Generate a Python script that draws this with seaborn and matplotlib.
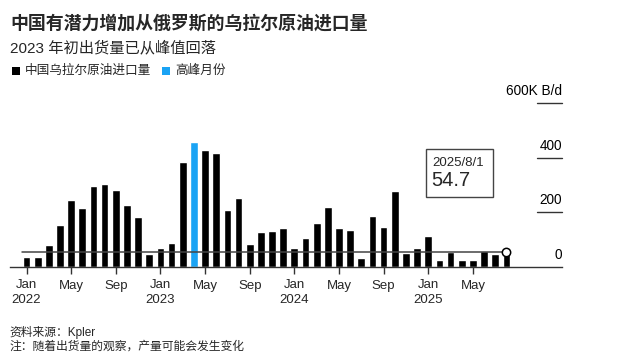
import numpy as np
import pandas as pd
import matplotlib
matplotlib.use("Agg")
import matplotlib.pyplot as plt
import seaborn as sns
from matplotlib.patches import Rectangle

# monthly Urals crude imports into China, thousand barrels/day
months = pd.date_range("2022-01-01", "2025-08-01", freq="MS")
imports = [36, 38, 80, 153, 246, 216, 297, 305, 281, 226, 183, 48,
           71, 87, 385, 456, 427, 417, 208, 252, 84, 128, 132, 143,
           71, 106, 160, 221, 143, 136, 34, 188, 147, 279, 51, 70,
           113, 27, 56, 26, 25, 59, 49, 54.7]
peak_month = "2023-04"
latest_label = "2025/8/1"
latest_value = "54.7"
y_ticks = [0, 200, 400, 600]
y_tick_labels = ["0", "200", "400", "600K B/d"]

title = "中国有潜力增加从俄罗斯的乌拉尔原油进口量"
subtitle = "2023 年初出货量已从峰值回落"
legend_labels = ["中国乌拉尔原油进口量", "高峰月份"]
source = "资料来源：Kpler"
note = "注：随着出货量的观察，产量可能会发生变化"

blue = "#1aa3f4"
dark = "#333333"

sns.set_style("white")
plt.rcParams["font.family"] = ["Liberation Sans", "Noto Sans CJK SC", "DejaVu Sans"]

df = pd.DataFrame({"month": months, "imports": imports})
df["pos"] = np.arange(len(df))
df["kind"] = np.where(df["month"].dt.strftime("%Y-%m") == peak_month, "peak", "normal")

W, H = 625, 364
fig = plt.figure(figsize=(W / 100, H / 100), dpi=100)


def fx(x):
    return x / W


def fy(y):
    return 1 - y / H


# axes placed in pixel terms: left 10, right 562, zero line at 267, top at 90
ax = fig.add_axes([fx(10), fy(267), (562 - 10) / W, (267 - 90) / H])
sns.barplot(data=df, x="pos", y="imports", hue="kind",
            palette={"normal": "black", "peak": blue},
            dodge=False, width=0.69, saturation=1, legend=False,
            native_scale=True, ax=ax)

step = 11.16
ax.set_xlim((10 - 26.5) / step, (562 - 26.5) / step)
ax.set_ylim(0, (267 - 90) * 200 / 54.7)

# reference line at the latest value, with marker on last bar
last = df["pos"].iloc[-1]
ax.plot([-0.4, last], [df["imports"].iloc[-1]] * 2, color="#444444", lw=1.1, zorder=3)
ax.plot([last], [df["imports"].iloc[-1]], marker="o", ms=6, mfc="white",
        mec="black", mew=1.1, zorder=4)

# right-side value labels with short rules
x_rule0 = (537 - 26.5) / step
x_rule1 = (562 - 26.5) / step
for v, lab in zip(y_ticks, y_tick_labels):
    if v > 0:
        ax.plot([x_rule0, x_rule1], [v, v], color=dark, lw=1, clip_on=False)
    ax.annotate(lab, xy=(x_rule1, v), xytext=(0, 8.6), textcoords="offset points",
                ha="right", va="center", fontsize=9.8, color="black")

for s in ["top", "right", "left"]:
    ax.spines[s].set_visible(False)
ax.spines["bottom"].set_color(dark)
ax.spines["bottom"].set_linewidth(1)
ax.set_yticks([])
ax.set_ylabel("")
ax.set_xlabel("")

tick_pos = df["pos"][::4]
tick_labels = []
for m in df["month"][::4]:
    lab = m.strftime("%b")
    if m.month == 1:
        lab += "\n" + str(m.year)
    tick_labels.append(lab)
ax.set_xticks(tick_pos)
ax.set_xticklabels(tick_labels, fontsize=9.5, linespacing=1.25)
ax.tick_params(axis="x", length=5, width=1, color=dark, pad=4, bottom=True)

# latest-value box
fig.patches.append(Rectangle((fx(425.5), fy(197.5)), (492.5 - 425.5) / W, (197.5 - 148.5) / H,
                             transform=fig.transFigure, fill=False, ec="#444444", lw=1))
fig.text(fx(432.5), fy(162.5), latest_label, fontsize=9.5, va="center", ha="left")
fig.text(fx(431.5), fy(181), latest_value, fontsize=14.5, va="center", ha="left")

# titles
fig.text(fx(10), fy(24), title, fontsize=12.9, fontweight="bold", va="center", ha="left")
fig.text(fx(10), fy(47.5), subtitle, fontsize=11, va="center", ha="left")

# legend
for x0, col, lab in [(11.5, "black", legend_labels[0]), (161.5, blue, legend_labels[1])]:
    fig.patches.append(Rectangle((fx(x0), fy(75)), 8 / W, 8 / H,
                                 transform=fig.transFigure, color=col, lw=0))
    fig.text(fx(x0 + 13.5), fy(71), lab, fontsize=9.1, va="center", ha="left")

# footer
fig.text(fx(9.5), fy(332.5), source, fontsize=8.5, va="center", ha="left")
fig.text(fx(9.5), fy(347), note, fontsize=8.5, va="center", ha="left")

fig.savefig("out.png", dpi=100)
